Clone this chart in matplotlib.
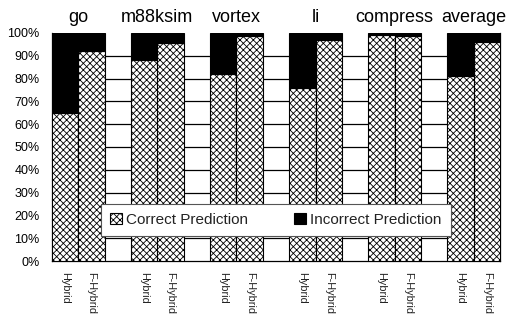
import matplotlib
matplotlib.use("Agg")
import matplotlib.pyplot as plt
import numpy as np

plt.rcParams['font.family'] = ['Liberation Sans', 'DejaVu Sans']
plt.rcParams['hatch.linewidth'] = 0.6

benchmarks = ["go", "m88ksim", "vortex", "li", "compress", "average"]
schemes = ["Hybrid", "F-Hybrid"]
correct_hybrid = [65, 88, 82, 76, 99, 81]
correct_fhybrid = [92, 95.5, 98.5, 97, 98.5, 96]
yticks = [0, 10, 20, 30, 40, 50, 60, 70, 80, 90, 100]

fig = plt.figure(figsize=(5.14, 3.17), dpi=100)
ax = fig.add_axes([52/514, 56/317, 448/514, 228/317])

xs, corr, labels = [], [], []
for i, b in enumerate(benchmarks):
    xs += [3*i, 3*i + 1]
    corr += [correct_hybrid[i], correct_fhybrid[i]]
    labels += schemes
xs = np.array(xs)
corr = np.array(corr)
incorr = 100 - corr

ax.bar(xs, corr, width=1.0, color='white', edgecolor='black', hatch='xxxxx',
       linewidth=0.8, label='Correct Prediction', zorder=3)
ax.bar(xs, incorr, bottom=corr, width=1.0, color='black', edgecolor='black',
       linewidth=0.8, label='Incorrect Prediction', zorder=3)

ax.set_xlim(-0.5, 16.5)
ax.set_ylim(0, 100)
ax.set_yticks(yticks)
ax.set_yticklabels([f"{v}%" for v in yticks], fontsize=9)
ax.tick_params(axis='y', length=0, pad=9)
ax.set_xticks(xs)
ax.set_xticklabels(labels, rotation=270, fontsize=7.8, va='top', ha='center',
                   color='#222222')
ax.tick_params(axis='x', length=0, pad=8)

for y in yticks[1:-1]:
    ax.axhline(y, color='black', lw=0.9, zorder=1)

ax.spines['top'].set_visible(False)
for sp in ['left', 'bottom', 'right']:
    ax.spines[sp].set_linewidth(0.9)

for i, b in enumerate(benchmarks):
    ax.text(3*i + 0.5, 103, b, ha='center', va='bottom', fontsize=13,
            transform=ax.transData)

leg = ax.legend(loc='center', bbox_to_anchor=(0.5, 0.18), ncol=2, fontsize=11,
                frameon=True, fancybox=False, handlelength=0.75, handleheight=0.75,
                handletextpad=0.3, columnspacing=3.0, borderpad=0.6,
                framealpha=1, edgecolor='#555555')
leg.get_frame().set_linewidth(0.8)
leg.set_zorder(5)
for t in leg.get_texts():
    t.set_color('#222222')

fig.savefig("out.png", dpi=100)
